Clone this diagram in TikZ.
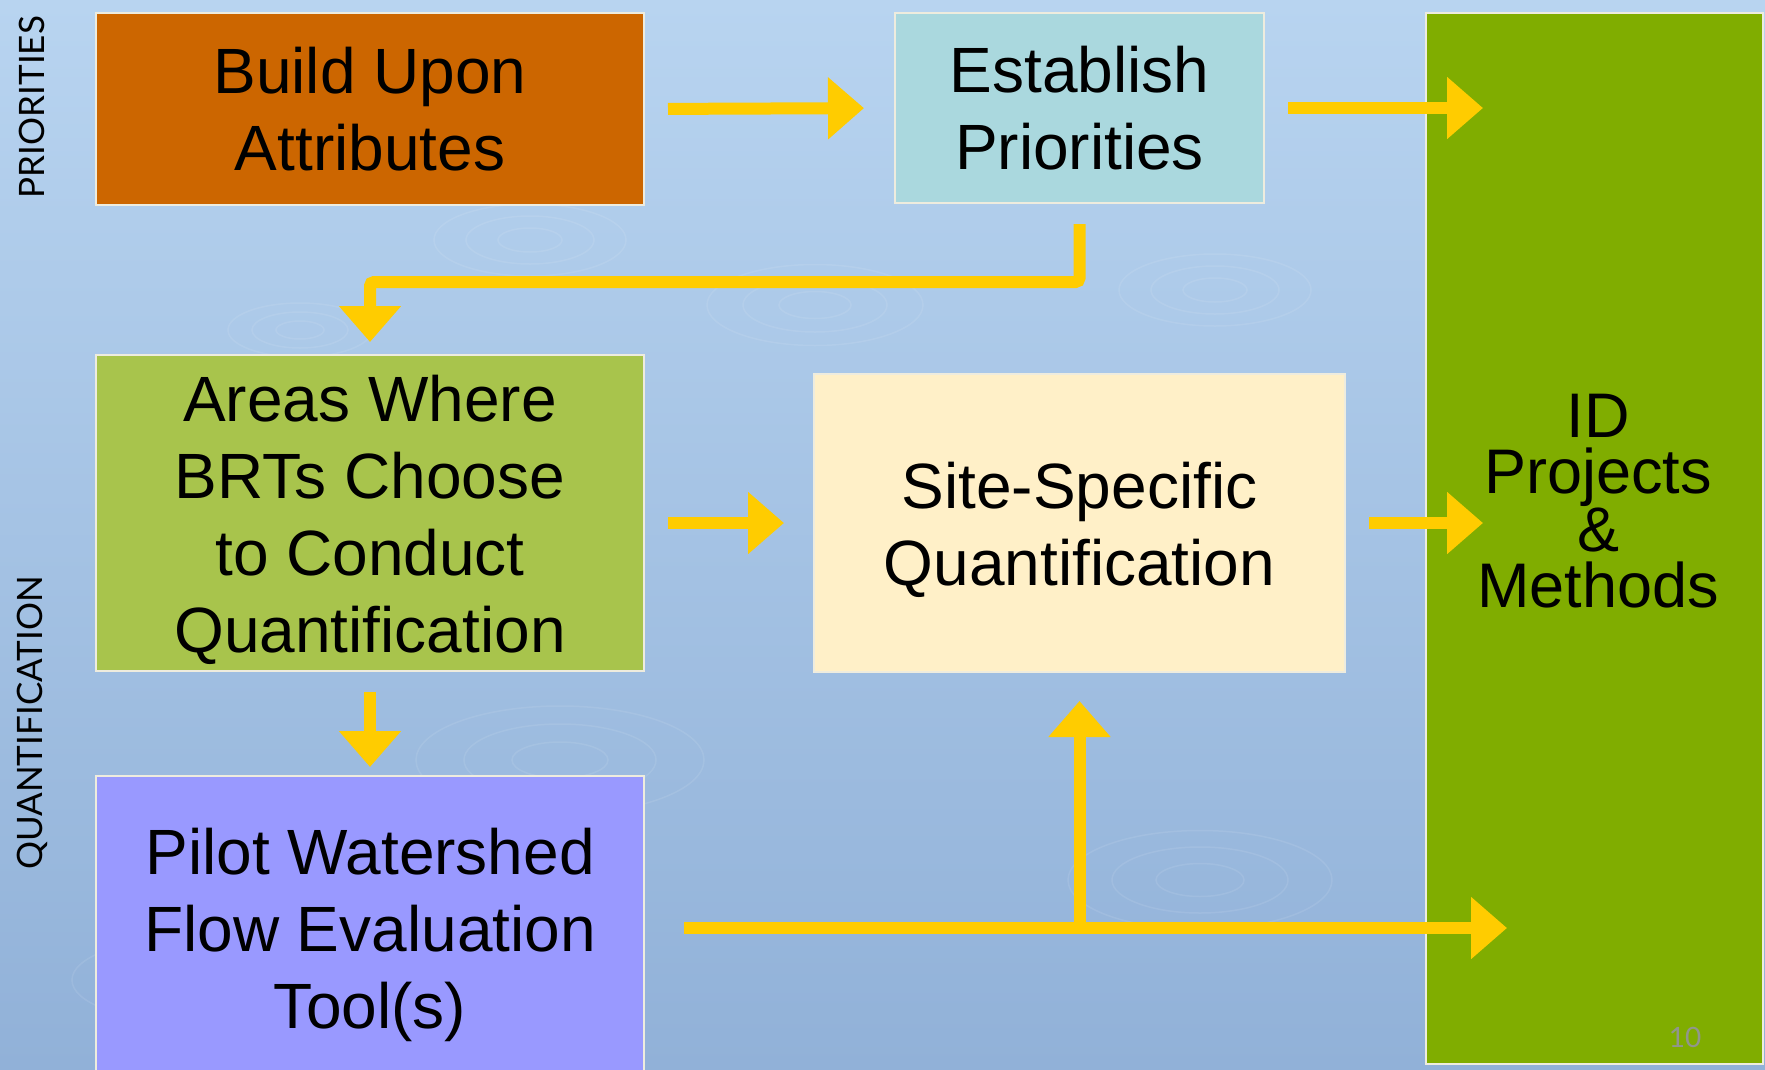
\documentclass[tikz,border=0pt]{standalone}
\usepackage{fontspec}
\setmainfont{Liberation Sans}
\newfontfamily\sidefont{Lato}
\usetikzlibrary{arrows.meta}

\definecolor{waterTop}{RGB}{184,212,240}
\definecolor{waterBot}{RGB}{145,177,216}
\definecolor{boxline}{RGB}{238,236,222}
\definecolor{arrowgold}{RGB}{255,204,0}
\definecolor{buildfill}{RGB}{204,102,0}
\definecolor{estabfill}{RGB}{170,216,222}
\definecolor{areasfill}{RGB}{168,196,76}
\definecolor{sitefill}{RGB}{255,240,200}
\definecolor{pilotfill}{RGB}{153,153,255}
\definecolor{idfill}{RGB}{128,173,0}
\definecolor{pagegray}{RGB}{145,150,140}

\begin{document}
\begin{tikzpicture}[x=1pt,y=-1pt,
    box/.style={draw=boxline, line width=2pt, inner sep=0pt, align=center,
      font=\fontsize{64}{77}\selectfont},
    flow/.style={draw=arrowgold, line width=12pt,
      -{Triangle[length=36pt,width=60pt]}},
    side/.style={rotate=90, font=\sidefont\fontsize{35}{35}\selectfont}]
  \useasboundingbox (0,0) rectangle (1765,1069);
  \clip (0,0) rectangle (1765,1069);

  % water background
  \shade[top color=waterTop, bottom color=waterBot] (0,0) rectangle (1765,1069);
  \foreach \cx/\cy/\r in {530/240/40, 815/305/45, 1215/290/40, 300/330/30, 1060/590/50, 560/760/60, 1200/880/55, 180/980/45} {
    \foreach \k in {1,2,3}
      \draw[white, opacity=.09, line width=1.5pt] (\cx,\cy)
        ellipse [x radius={\r*\k*0.8pt}, y radius={\r*\k*0.3pt}];
  }

  % side labels
  \node[side] (prio) at (32,107) {PRIORITIES};
  \node[side] (quant) at (32,723) {QUANTIFICATION};

  % boxes
  \node[box, fill=buildfill, minimum width=548pt, minimum height=192pt] (build) at (370,109) {Build Upon\\Attributes};
  \node[box, fill=estabfill, minimum width=369pt, minimum height=190pt] (estab) at (1079.5,108) {Establish\\Priorities};
  \node[box, fill=areasfill, minimum width=548pt, minimum height=316pt] (areas) at (370,513) {\rule{0pt}{60pt}Areas Where\\BRTs Choose\\to Conduct\\Quantification};
  \node[box, fill=sitefill, minimum width=531pt, minimum height=298pt] (site) at (1079.5,523) {\rule{0pt}{60pt}Site-Specific\\Quantification};
  \node[box, fill=pilotfill, minimum width=548pt, minimum height=304pt] (pilot) at (370,928) {\rule{0pt}{60pt}Pilot Watershed\\Flow Evaluation\\Tool(s)};
  \node[box, fill=idfill, minimum width=337pt, minimum height=1051pt] (idbox) at (1594.5,538.5) {};
  \node[align=center, font=\fontsize{63}{56}\selectfont] (idtext) at (1598,501) {ID\\Projects\\\&\\Methods};
  \node[text=pagegray, font=\sidefont\fontsize{28}{28}\selectfont] (page) at (1685,1037) {10};

  % connectors
  \draw[flow, shorten <=23pt, shorten >=30pt] (build.east) -- (estab.west);
  \draw[flow, shorten <=23pt, shorten >=-58pt] (estab.east) -- (estab.east -| idbox.west);
  \draw[flow, rounded corners=4pt, shorten <=20pt, shorten >=12pt]
    (estab.south) -- ++(0,78) -| (areas.north);
  \draw[flow, shorten <=23pt, shorten >=29pt] (site.west -| areas.east) -- (site.west);
  \draw[flow, shorten <=23pt, shorten >=-58pt] (site.east) -- (site.east -| idbox.west);
  \draw[flow, shorten <=20pt, shorten >=8pt] (areas.south) -- (pilot.north);
  \coordinate (split) at (site.south |- pilot.east);
  \draw[flow, shorten <=39pt, shorten >=-82pt] (pilot.east) -- (pilot.east -| idbox.west);
  \draw[flow, shorten >=28pt] (split) -- (site.south);
\end{tikzpicture}
\end{document}
